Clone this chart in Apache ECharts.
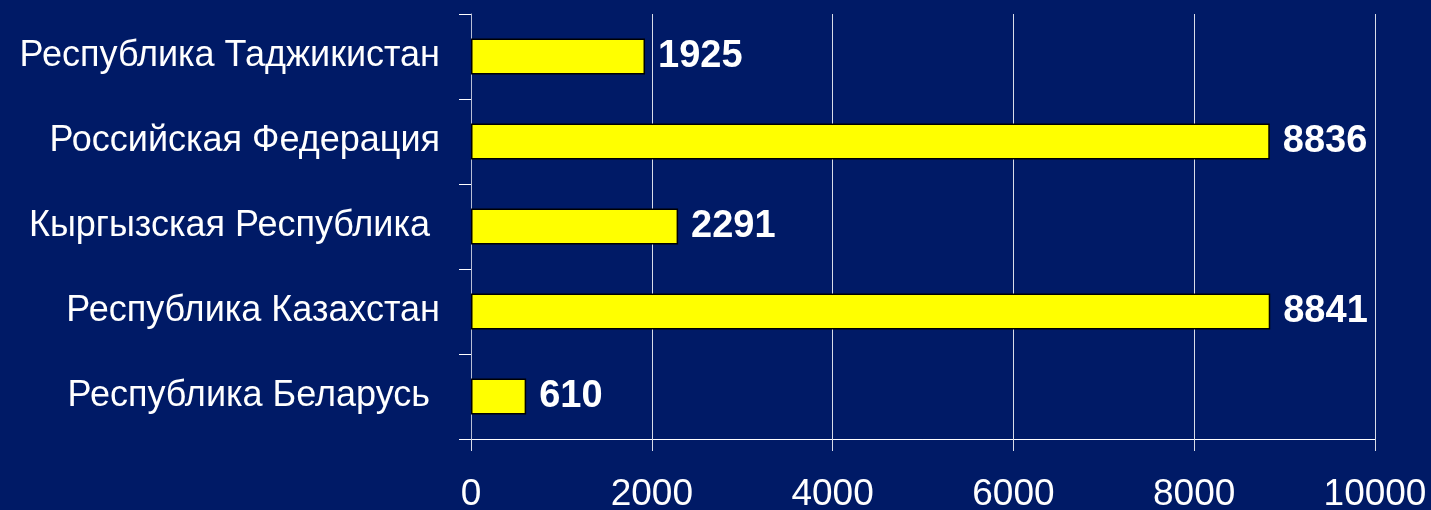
<!DOCTYPE html>
<html>
<head>
<meta charset="utf-8">
<script src="https://cdn.jsdelivr.net/npm/echarts@6/dist/echarts.min.js"></script>
<style>
  html, body { margin: 0; padding: 0; background: #001a66; }
  #chart { width: 1431px; height: 510px; }
</style>
</head>
<body>
<div id="chart"></div>
<script>
// categories, top to bottom as in the picture
var countries = [
  'Республика Таджикистан',
  'Российская Федерация',
  'Кыргызская Республика ',
  'Республика Казахстан',
  'Республика Беларусь '
];
var counts = [1925, 8836, 2291, 8841, 610];
var xTicks = [0, 2000, 4000, 6000, 8000, 10000];

var myChart = echarts.init(document.getElementById('chart'), null, { renderer: 'canvas' });

var option = {
  backgroundColor: '#001a66',
  animation: false,
  grid: { left: 471, right: 56, top: 14, bottom: 71, containLabel: false, outerBoundsMode: 'none' },
  xAxis: {
    type: 'value',
    min: xTicks[0],
    max: xTicks[xTicks.length - 1],
    interval: 2000,
    axisLine: { show: true, lineStyle: { color: '#ffffff', width: 1 } },
    axisTick: { show: true, length: 12, lineStyle: { color: '#d8dce8' } },
    splitLine: { show: true, lineStyle: { color: '#d8dce8', width: 1 } },
    axisLabel: {
      color: '#ffffff',
      fontFamily: 'Liberation Sans, Arial, sans-serif',
      fontSize: 37,
      margin: 37,
      formatter: function (v) { return String(v); }
    }
  },
  yAxis: {
    type: 'category',
    inverse: true,
    data: countries,
    axisLine: { show: true, lineStyle: { color: '#b8bed6', width: 1 } },
    axisTick: { show: true, length: 12, lineStyle: { color: '#ffffff' } },
    axisLabel: {
      color: '#ffffff',
      fontFamily: 'Liberation Sans, Arial, sans-serif',
      fontSize: 36,
      margin: 31
    }
  },
  series: [{
    type: 'bar',
    data: counts,
    barWidth: 36,
    itemStyle: { color: '#ffff00', borderColor: '#000000', borderWidth: 1.5 },
    label: {
      show: true,
      position: 'right',
      distance: 13,
      color: '#ffffff',
      fontFamily: 'Liberation Sans, Arial, sans-serif',
      fontWeight: 'bold',
      fontSize: 38
    }
  }]
};

myChart.setOption(option);
window.addEventListener('resize', myChart.resize);
</script>
</body>
</html>
